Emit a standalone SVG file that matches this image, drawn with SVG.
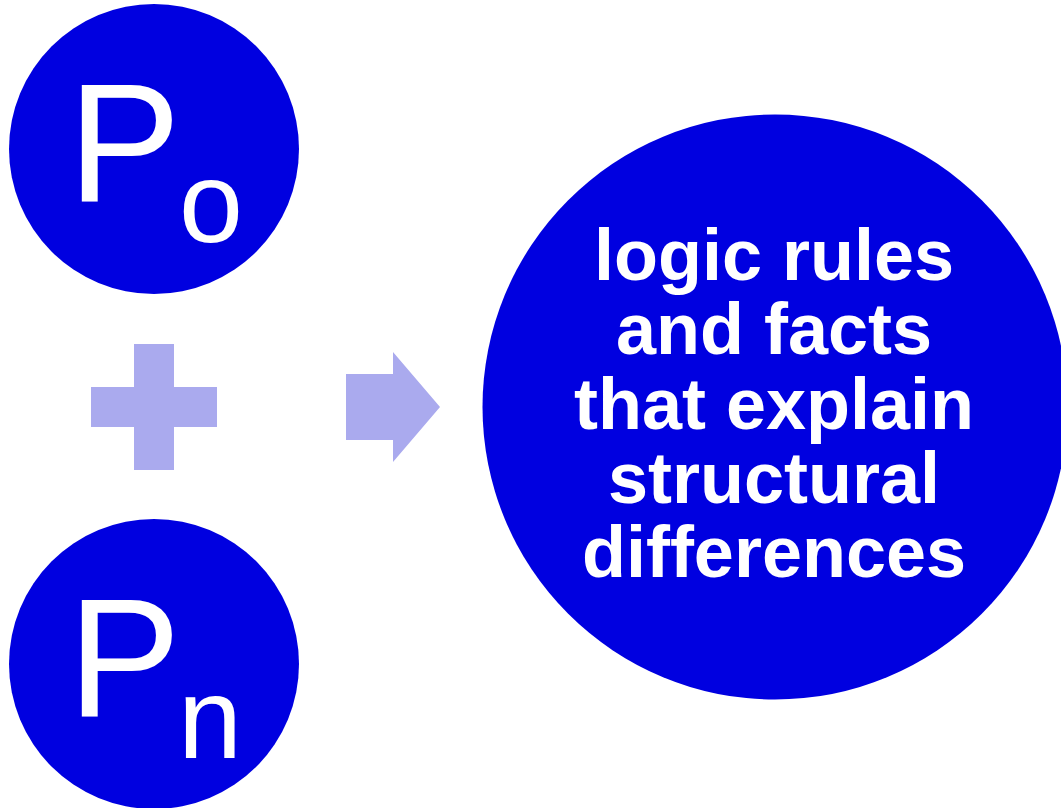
<svg xmlns="http://www.w3.org/2000/svg" width="1061" height="808" viewBox="0 0 1061 808">
<style>
.node{fill:#0000E0}
.sym{fill:#AAAAEE}
.p{font-family:"Liberation Sans",Arial,sans-serif;fill:#fff}
.big{font-family:"Liberation Sans",Arial,sans-serif;font-weight:bold;font-size:72px;fill:#fff;text-anchor:middle}
</style>
<rect width="1061" height="808" fill="#fff"/>
<g id="node-po">
<circle class="node" cx="154" cy="149" r="145"/>
<text class="p" x="68" y="201" font-size="169">P</text>
<text class="p" x="179" y="242" font-size="115">o</text>
</g>
<g id="node-pn">
<circle class="node" cx="154" cy="664" r="145"/>
<text class="p" x="68" y="716" font-size="169">P</text>
<text class="p" x="178" y="758" font-size="115">n</text>
</g>
<g id="plus">
<rect class="sym" x="134" y="344" width="40" height="126"/>
<rect class="sym" x="91" y="387" width="126" height="40"/>
</g>
<g id="connectors">
<polygon class="sym" points="346,374 393,374 393,352 440,407 393,462 393,440 346,440"/>
</g>
<g id="node-result">
<circle class="node" cx="775" cy="407" r="292.5"/>
<text class="big" x="774" y="280">logic rules</text>
<text class="big" x="774" y="354">and facts</text>
<text class="big" x="774" y="429">that explain</text>
<text class="big" x="774" y="503">structural</text>
<text class="big" x="774" y="577">differences</text>
</g>
</svg>
